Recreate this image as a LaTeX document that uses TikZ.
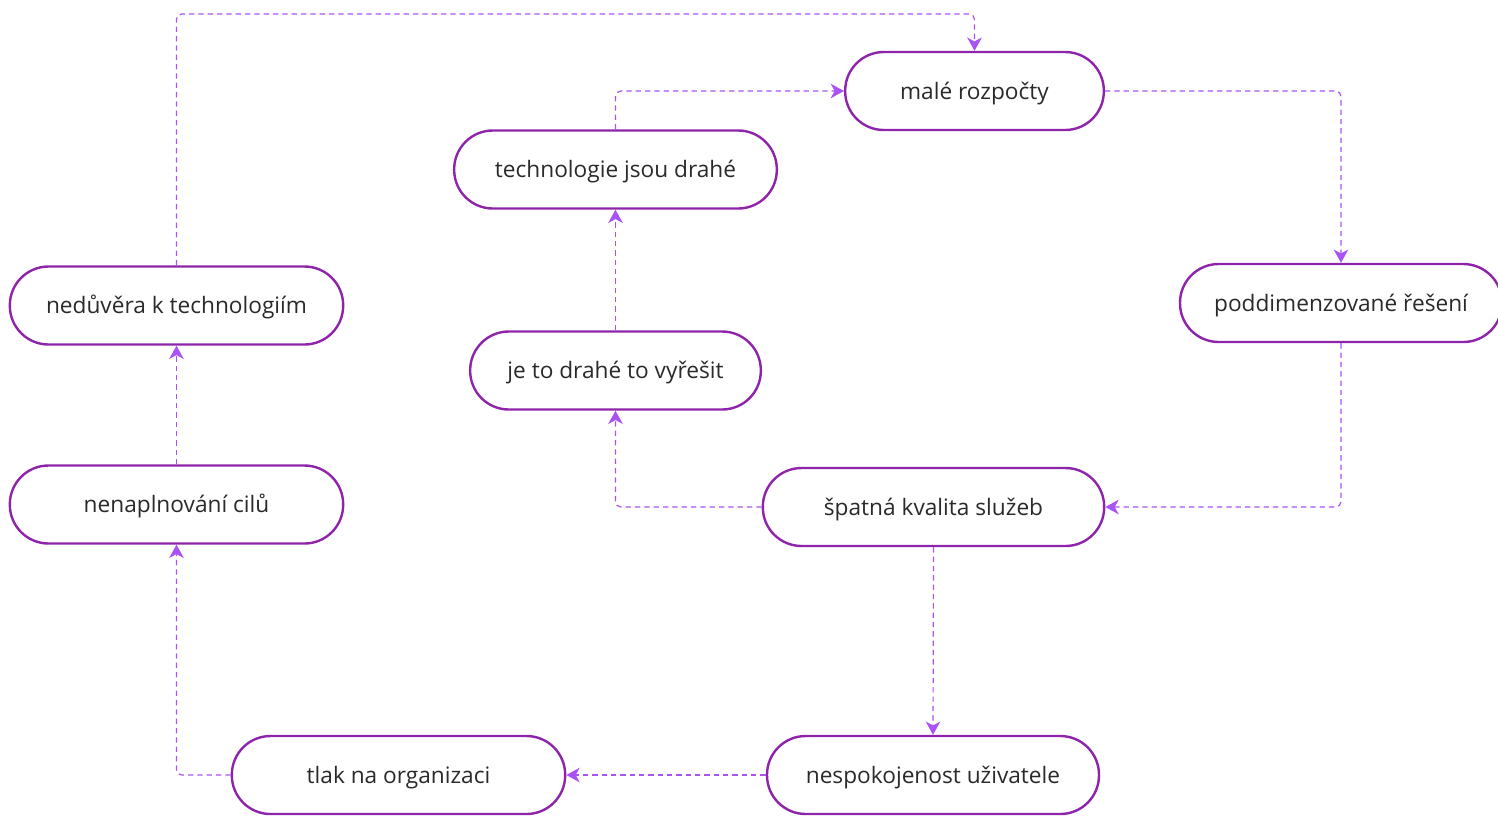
\documentclass[tikz,border=0pt]{standalone}
\usepackage{fontspec}
\setmainfont{Open Sans}
\usetikzlibrary{arrows.meta}
\definecolor{nodeborder}{HTML}{8E24AA}
\definecolor{edgecol}{HTML}{A953F5}
\definecolor{txt}{HTML}{2A2A2A}
\begin{document}
\begin{tikzpicture}[x=0.75pt,y=-0.75pt,
  pill/.style={draw=nodeborder, line width=1.8pt, fill=white, rounded corners=29pt,
    minimum height=58.5pt, inner sep=0pt, text=txt, text height=13pt, text depth=1pt,
    font=\fontsize{17}{20}\selectfont},
  edge/.style={draw=edgecol, line width=0.9pt, dash pattern=on 4pt off 3pt,
    rounded corners=4pt, -{Stealth[length=10pt,width=11pt,inset=3pt]}}]
\useasboundingbox (0,0) rectangle (1498,815);
\node[pill, minimum width=194pt] (male) at (974.5,91) {malé rozpočty};
\node[pill, minimum width=242pt] (tech) at (615.5,169.5) {technologie jsou drahé};
\node[pill, minimum width=250pt] (ned) at (176.5,305.5) {nedůvěra k technologiím};
\node[pill, minimum width=241.5pt] (podd) at (1341,303) {poddimenzované řešení};
\node[pill, minimum width=218pt] (jeto) at (615.5,370.5) {je to drahé to vyřešit};
\node[pill, minimum width=250pt] (nen) at (176.5,504.5) {nenaplnování cilů};
\node[pill, minimum width=256pt] (spat) at (933.5,507) {špatná kvalita služeb};
\node[pill, minimum width=250pt] (tlak) at (398.5,775) {tlak na organizaci};
\node[pill, minimum width=249pt] (nesp) at (933,775) {nespokojenost uživatele};
\coordinate (topline) at (0,14);
\draw[edge] (ned.north) -- (ned.north |- topline) -- (male.north |- topline) -- (male.north);
\draw[edge] (tech.north) |- (male.west);
\draw[edge] (male.east) -| (podd.north);
\draw[edge] (podd.south) |- (spat.east);
\draw[edge] (spat.west) -| (jeto.south);
\draw[edge] (jeto.north) -- (tech.south);
\draw[edge] (spat.south) -- (nesp.north);
\draw[edge] (nesp.west) -- (tlak.east);
\draw[edge] (tlak.west) -| (nen.south);
\draw[edge] (nen.north) -- (ned.south);
\end{tikzpicture}
\end{document}
